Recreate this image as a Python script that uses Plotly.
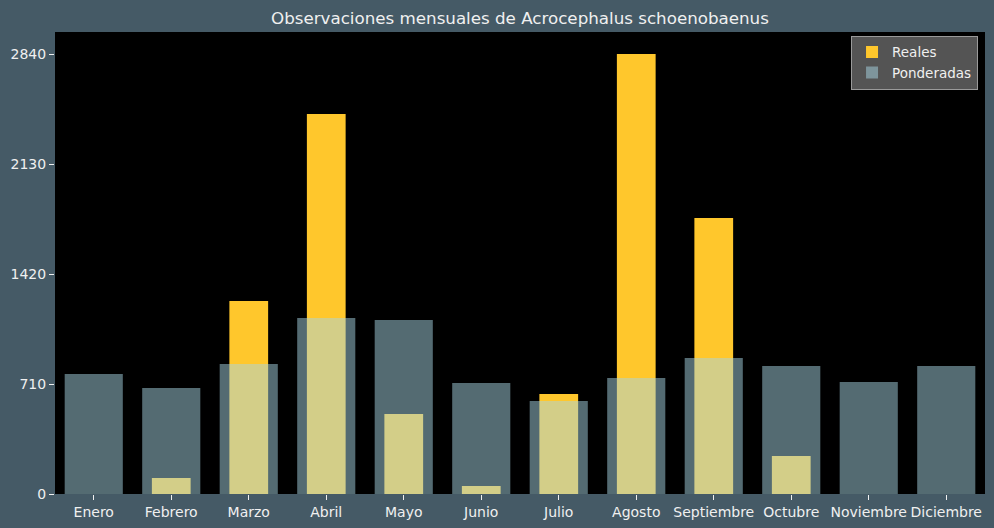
import plotly.graph_objects as go

meses = ["Enero", "Febrero", "Marzo", "Abril", "Mayo", "Junio", "Julio",
         "Agosto", "Septiembre", "Octubre", "Noviembre", "Diciembre"]
reales = [0, 103, 1246, 2453, 516, 52, 645, 2840, 1781, 245, 0, 0]
ponderadas = [775, 684, 839, 1136, 1123, 716, 600, 749, 878, 826, 723, 826]
y_ticks = [0, 710, 1420, 2130, 2840]

FONT = "DejaVu Sans"
TXT = "#f0f0f0"

fig = go.Figure()
fig.add_trace(go.Bar(x=meses, y=reales, name="Reales", width=0.5,
                     marker=dict(color="#ffc72c", line=dict(width=0))))
fig.add_trace(go.Bar(x=meses, y=ponderadas, name="Ponderadas", width=0.75,
                     marker=dict(color="rgba(168,214,228,0.5)", line=dict(width=0))))

fig.update_layout(
    width=994, height=528,
    barmode="overlay",
    paper_bgcolor="#455a66",
    plot_bgcolor="#000000",
    margin=dict(l=55, r=9, t=32, b=34),
    font=dict(family=FONT, size=14, color=TXT),
    title=dict(text="Observaciones mensuales de Acrocephalus schoenobaenus",
               x=0.5231, xanchor="center", y=0.965, yanchor="middle",
               font=dict(size=16.7, color=TXT, family=FONT)),
    legend=dict(x=0.9925, y=0.992, xanchor="right", yanchor="top",
                bgcolor="rgba(89,89,89,0.95)", bordercolor="#9a9a9a", borderwidth=1,
                font=dict(size=13.5, color=TXT, family=FONT)),
    xaxis=dict(range=[-0.5, 11.5], showgrid=False, zeroline=False,
               ticks="outside", ticklen=5, tickcolor=TXT, showline=False,
               tickfont=dict(size=14, color=TXT)),
    yaxis=dict(range=[0, 2982], tickvals=y_ticks, ticktext=[str(v) for v in y_ticks],
               showgrid=False, zeroline=False, ticks="outside", ticklen=5,
               tickcolor=TXT, showline=False, tickfont=dict(size=14, color=TXT)),
)

fig.write_html("out.html")
